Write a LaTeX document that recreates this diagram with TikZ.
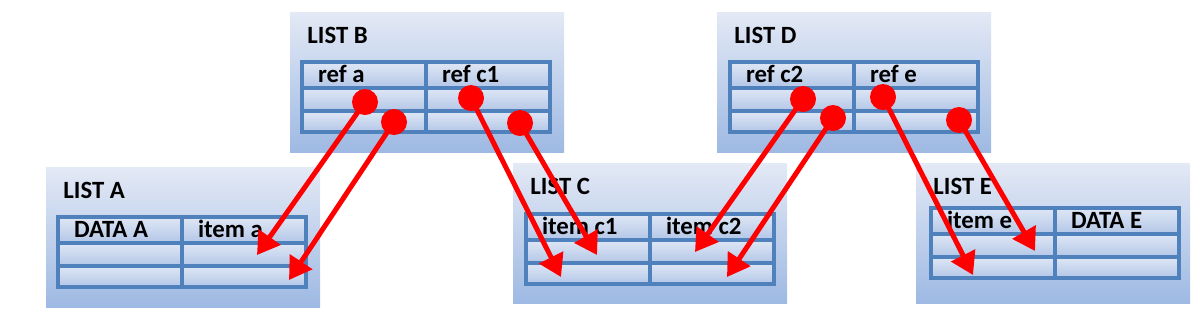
\documentclass[tikz,border=0pt]{standalone}
\usepackage{xcolor}
\usepackage{fontspec}
\setmainfont{Carlito}
\usetikzlibrary{arrows.meta,positioning}

\definecolor{boxtop}{HTML}{E3E9F5}
\definecolor{boxbot}{HTML}{9EB9E3}
\definecolor{celltop}{HTML}{DFE7F5}
\definecolor{cellbot}{HTML}{B3C6E7}
\definecolor{gridblue}{HTML}{4F81BD}
\definecolor{linkred}{HTML}{FF0000}

\begin{document}
\begin{tikzpicture}[
  x=0.5pt, y=-0.5pt,
  font=\fontsize{12.4}{15}\selectfont\bfseries,
  listbox/.style={minimum width=137pt,minimum height=70pt,inner sep=0pt,outer sep=0pt,top color=boxtop,bottom color=boxbot},
  cell/.style={draw=gridblue,line width=2pt,top color=celltop,bottom color=cellbot,minimum width=62pt,inner sep=0pt,outer sep=0pt},
  headcell/.style={cell,minimum height=13pt,text width=46pt,inner xsep=8pt,align=flush left,text height=7.5pt,text depth=0pt},
  midcell/.style={cell,minimum height=11.5pt},
  lowcell/.style={cell,minimum height=10.5pt},
  title/.style={anchor=base west,inner sep=0pt},
  dot/.style={circle,fill=linkred,minimum size=13pt,inner sep=0pt},
  link/.style={linkred,line width=2.5pt,-{Triangle[length=11pt,width=13pt]}}
]
  \useasboundingbox (0,0) rectangle (1200,318);

  % lists with their tables
  \foreach \n/\bx/\by/\tx/\ty/\t/\ca/\cb in {
      A/46/167/58/217/LIST A/DATA A/item a,
      B/290/12/302/62/LIST B/ref a/ref c1,
      C/513/163/526/214/LIST C/item c1/item c2,
      D/717/12/730/62/LIST D/ref c2/ref e,
      E/916/163/931/208/LIST E/item e/DATA E}{
    \node[listbox,anchor=north west] (\n) at (\bx,\by) {};
    \node[title] (\n-title) at ([shift={(8.5pt,-15.5pt)}]\n.north west) {\t};
    \node[headcell,anchor=north west] (\n-1-1) at (\tx,\ty) {\ca};
    \node[headcell,right=0pt of \n-1-1] (\n-1-2) {\cb};
    \node[midcell,below=0pt of \n-1-1] (\n-2-1) {};
    \node[midcell,below=0pt of \n-1-2] (\n-2-2) {};
    \node[lowcell,below=0pt of \n-2-1] (\n-3-1) {};
    \node[lowcell,below=0pt of \n-2-2] (\n-3-2) {};
  }

  % reference dots
  \node[dot] (dB1) at (365,102) {};
  \node[dot] (dB2) at (394,122) {};
  \node[dot] (dB3) at (471,98) {};
  \node[dot] (dB4) at (520,123) {};
  \node[dot] (dD1) at (803,99) {};
  \node[dot] (dD2) at (833,118) {};
  \node[dot] (dD3) at (883,97) {};
  \node[dot] (dD4) at (959,120) {};

  % arrow targets
  \coordinate (tA1) at (257,255);
  \coordinate (tA2) at (289,280);
  \coordinate (tC1) at (561,277);
  \coordinate (tC2) at (597,255);
  \coordinate (tC3) at (695,252);
  \coordinate (tC4) at (727,277);
  \coordinate (tE1) at (973,275);
  \coordinate (tE2) at (1035,251);

  \draw[link] (dB1.center) -- (tA1);
  \draw[link] (dB2.center) -- (tA2);
  \draw[link] (dB3.center) -- (tC1);
  \draw[link] (dB4.center) -- (tC2);
  \draw[link] (dD1.center) -- (tC3);
  \draw[link] (dD2.center) -- (tC4);
  \draw[link] (dD3.center) -- (tE1);
  \draw[link] (dD4.center) -- (tE2);
\end{tikzpicture}
\end{document}
